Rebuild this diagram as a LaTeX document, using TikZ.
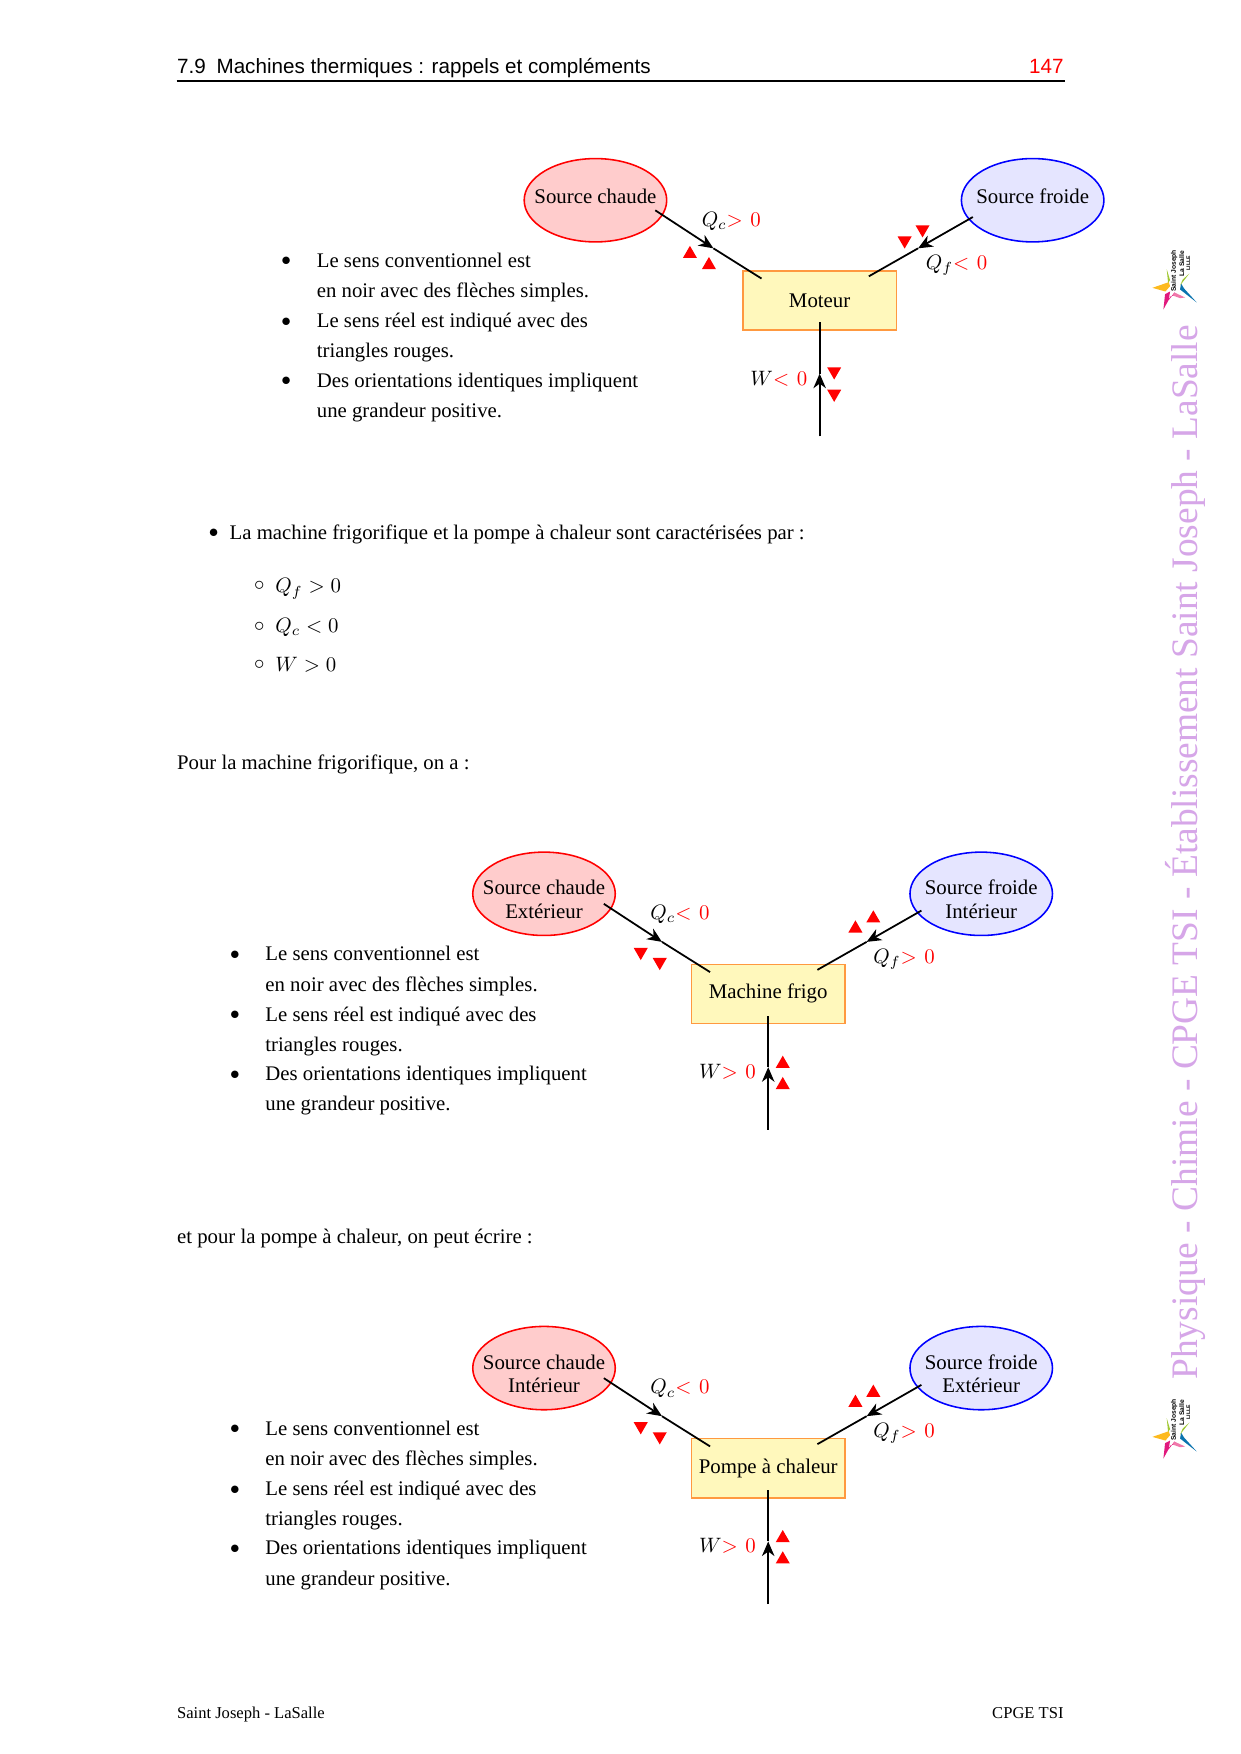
\documentclass[tikz,border=0pt]{standalone}
\usepackage[no-math]{fontspec}
\setmainfont{Liberation Serif}
\newfontfamily\hdfont{Liberation Sans}
\usetikzlibrary{shapes.geometric,arrows.meta}
\definecolor{wm}{RGB}{214,166,232}
\definecolor{boxedge}{RGB}{255,153,64}
\definecolor{boxfill}{RGB}{255,248,188}
\definecolor{lgyellow}{RGB}{253,186,30}
\definecolor{lglime}{RGB}{160,200,50}
\definecolor{lgmag}{RGB}{225,25,125}
\definecolor{lgpink}{RGB}{240,120,170}
\definecolor{lgblue}{RGB}{10,115,175}
\tikzset{
 hot/.style={ellipse,draw=red,fill=red!20,line width=0.75pt,minimum width=68.4pt,minimum height=40pt,inner sep=0pt,font=\fontsize{10}{11.3}\selectfont},
 cold/.style={hot,draw=blue,fill=blue!10},
 machine/.style={rectangle,draw=boxedge,fill=boxfill,line width=0.75pt,minimum width=73.8pt,minimum height=28.4pt,inner sep=0pt,font=\fontsize{10}{12}\selectfont},
 flow/.style={line width=0.85pt,-{Stealth[length=7pt,width=6pt,inset=2.2pt]}},
 plain/.style={line width=0.85pt},
 tup/.style={regular polygon,regular polygon sides=3,fill=red,inner sep=0pt,minimum size=7.8pt},
 tdown/.style={tup,shape border rotate=180},
 txt/.style={anchor=base west,inner sep=0pt,font=\fontsize{9.97}{12}\selectfont},
 val/.style={anchor=center,inner sep=0pt,font=\fontsize{10}{12}\selectfont},
 hdr/.style={anchor=base west,inner sep=0pt,font=\hdfont\fontsize{9.9}{12}\selectfont},
 foot/.style={anchor=base west,inner sep=0pt,font=\fontsize{7.95}{10}\selectfont},
 dot/.style={anchor=center,inner sep=0pt,font=\fontsize{9}{11}\selectfont},
}
\newcommand{\oneline}[1]{\raisebox{-1.5pt}[0pt][0pt]{\makebox[0pt]{#1}}}
\newcommand{\twolines}[2]{\raisebox{-0.5pt}[0pt][0pt]{\makebox[0pt]{\begin{tabular}[t]{@{}c@{}}#1\\#2\end{tabular}}}}
\newcommand{\sep}{\mskip1.5mu}
\newcommand{\bulletlist}{%
 \foreach \yy/\tt in {233/Le sens conventionnel est,260/en noir avec des flèches simples.,287/Le sens réel est indiqué avec des,314/triangles rouges.,340/Des orientations identiques impliquent,367/une grandeur positive.}{
  \node[txt] at (283,\yy+6) {\tt};}
 \foreach \yy [count=\i] in {233,287,340}{
  \node[dot] (bul\i) at (256,\yy+1) {$\bullet$};}
}
\newcommand{\engine}[3]{%
 \node[hot] (hs) at (532.5,179) {#1};
 \node[cold] (cs) at (923.5,179) {#2};
 \node[machine] (mm) at (733,268.5) {#3};
 \coordinate (hs0) at (586,188);
 \coordinate (hm) at (638,222);
 \coordinate (hm1) at (681,249);
 \coordinate (cs0) at (870,194);
 \coordinate (cm) at (821,222);
 \coordinate (cm1) at (777,247);
 \coordinate (w0) at (733,390);
 \coordinate (wm0) at (733,334);
 \coordinate (w1) at (733,288);
 \draw[flow] (hs0) -- (hm);
 \draw[plain] (hm) -- (hm1);
 \draw[flow] (cs0) -- (cm);
 \draw[plain] (cm) -- (cm1);
 \draw[flow] (w0) -- (wm0);
 \draw[plain] (wm0) -- (w1);
 \bulletlist
}
\begin{document}
\begin{tikzpicture}[x=0.5367pt,y=-0.5369pt]
\useasboundingbox (0,0) rectangle (1109,1568);
\fill[white] (0,0) rectangle (1109,1568);
% header
\node[hdr] (h1) at (158,66) {7.9\hspace{5.2pt}Machines thermiques : rappels et compléments};
\node[hdr,anchor=base east,text=red] (h2) at (951.5,66) {147};
\coordinate (r0) at (158,72); \coordinate (r1) at (952,72);
\draw[line width=1pt] (r0) -- (r1);
% footer
\node[foot] (f1) at (158,1536) {Saint Joseph - LaSalle};
\node[foot,anchor=base east] (f2) at (951.5,1536) {CPGE TSI};
% watermark
\node[rotate=90,text=wm,inner sep=0pt,font=\fontsize{17.95}{20}\selectfont] (wmk) at (1060,762) {Physique - Chimie - CPGE TSI - Établissement Saint Joseph - LaSalle};
% logos
\foreach \dy [count=\k] in {0,1027.2}{
\begin{scope}[shift={(1010.6,196.8+\dy)},x=0.16pt,y=-0.16pt]
 \fill[lgyellow] (67,203) -- (116,186) -- (120,198) -- (106,214) -- cycle;
 \fill[lglime] (110,147) -- (120,180) -- (114,188) -- cycle;
 \fill[lgmag] (100,268) -- (105,222) -- (120,214) -- (116,240) -- (133,217) -- (142,224) -- (122,228) -- cycle;
 \fill[lgpink] (133,217) -- (165,232) -- (150,234) -- (128,226) -- cycle;
 \fill[lgblue] (200,247) -- (150,208) -- (153,190) -- (162,205) -- cycle;
 \fill[lglime] (178,160) -- (150,196) -- (158,178) -- cycle;
 \node[rotate=90,inner sep=0pt,font=\hdfont\bfseries\fontsize{3.2}{4}\selectfont] (lg\k a) at (132,152) {Saint Joseph};
 \node[rotate=90,inner sep=0pt,font=\hdfont\bfseries\fontsize{3.2}{4}\selectfont] (lg\k b) at (155,130) {La Salle};
 \node[rotate=90,inner sep=0pt,font=\hdfont\bfseries\fontsize{2.5}{3}\selectfont] (lg\k c) at (175,129) {LILLE};
\end{scope}}
% first diagram
\begin{scope}[name prefix=a-]
 \engine{\oneline{Source chaude}}{\oneline{Source froide}}{Moteur}
 \node[val] (qc) at (654,198) {$Q_c$\textcolor{red}{$>\sep 0$}};
 \node[val] (qf) at (855.5,237) {$Q_f$\textcolor{red}{$<\sep 0$}};
 \node[val] (w) at (696.5,339) {$W$\textcolor{red}{$<\sep 0$}};
 \node[tup] (t1) at (617,227) {};
 \node[tup] (t2) at (634,237) {};
 \node[tdown] (t3) at (809,215) {};
 \node[tdown] (t4) at (825,205) {};
 \node[tdown] (t5) at (746,332) {};
 \node[tdown] (t6) at (746,352) {};
\end{scope}
% frigo text
\node[txt] (p1) at (205,482) {La machine frigorifique et la pompe à chaleur sont caractérisées par :};
\node[dot] (p1b) at (191,477) {$\bullet$};
\node[txt] (s1) at (246,530) {$Q_f>0$};
\node[txt] (s2) at (246,565) {$Q_c<0$};
\node[txt] (s3) at (246,600) {$W>0$};
\node[anchor=center,inner sep=0pt] (c1) at (232,524) {$\circ$};
\node[anchor=center,inner sep=0pt] (c2) at (232,560) {$\circ$};
\node[anchor=center,inner sep=0pt] (c3) at (232,594) {$\circ$};
\node[txt] (p2) at (158,688) {Pour la machine frigorifique, on a :};
\node[txt] (p3) at (158,1112) {et pour la pompe à chaleur, on peut écrire :};
% second diagram
\begin{scope}[shift={(-46,620)},name prefix=b-]
 \engine{\twolines{Source chaude}{Extérieur}}{\twolines{Source froide}{Intérieur}}{Machine frigo}
 \node[val] (qc) at (654,197.5) {$Q_c$\textcolor{red}{$<\sep 0$}};
 \node[val] (qf) at (854.5,237.5) {$Q_f$\textcolor{red}{$>\sep 0$}};
 \node[val] (w) at (696.5,338) {$W$\textcolor{red}{$>\sep 0$}};
 \node[tdown] (t1) at (619,231) {};
 \node[tdown] (t2) at (636,240) {};
 \node[tup] (t3) at (811,210) {};
 \node[tup] (t4) at (827,201) {};
 \node[tup] (t5) at (746,331) {};
 \node[tup] (t6) at (746,350) {};
\end{scope}
% third diagram
\begin{scope}[shift={(-46,1044)},name prefix=c-]
 \engine{\twolines{Source chaude}{Intérieur}}{\twolines{Source froide}{Extérieur}}{Pompe à chaleur}
 \node[val] (qc) at (654,197.5) {$Q_c$\textcolor{red}{$<\sep 0$}};
 \node[val] (qf) at (854.5,237.5) {$Q_f$\textcolor{red}{$>\sep 0$}};
 \node[val] (w) at (696.5,338) {$W$\textcolor{red}{$>\sep 0$}};
 \node[tdown] (t1) at (619,231) {};
 \node[tdown] (t2) at (636,240) {};
 \node[tup] (t3) at (811,210) {};
 \node[tup] (t4) at (827,201) {};
 \node[tup] (t5) at (746,331) {};
 \node[tup] (t6) at (746,350) {};
\end{scope}
\end{tikzpicture}
\end{document}
